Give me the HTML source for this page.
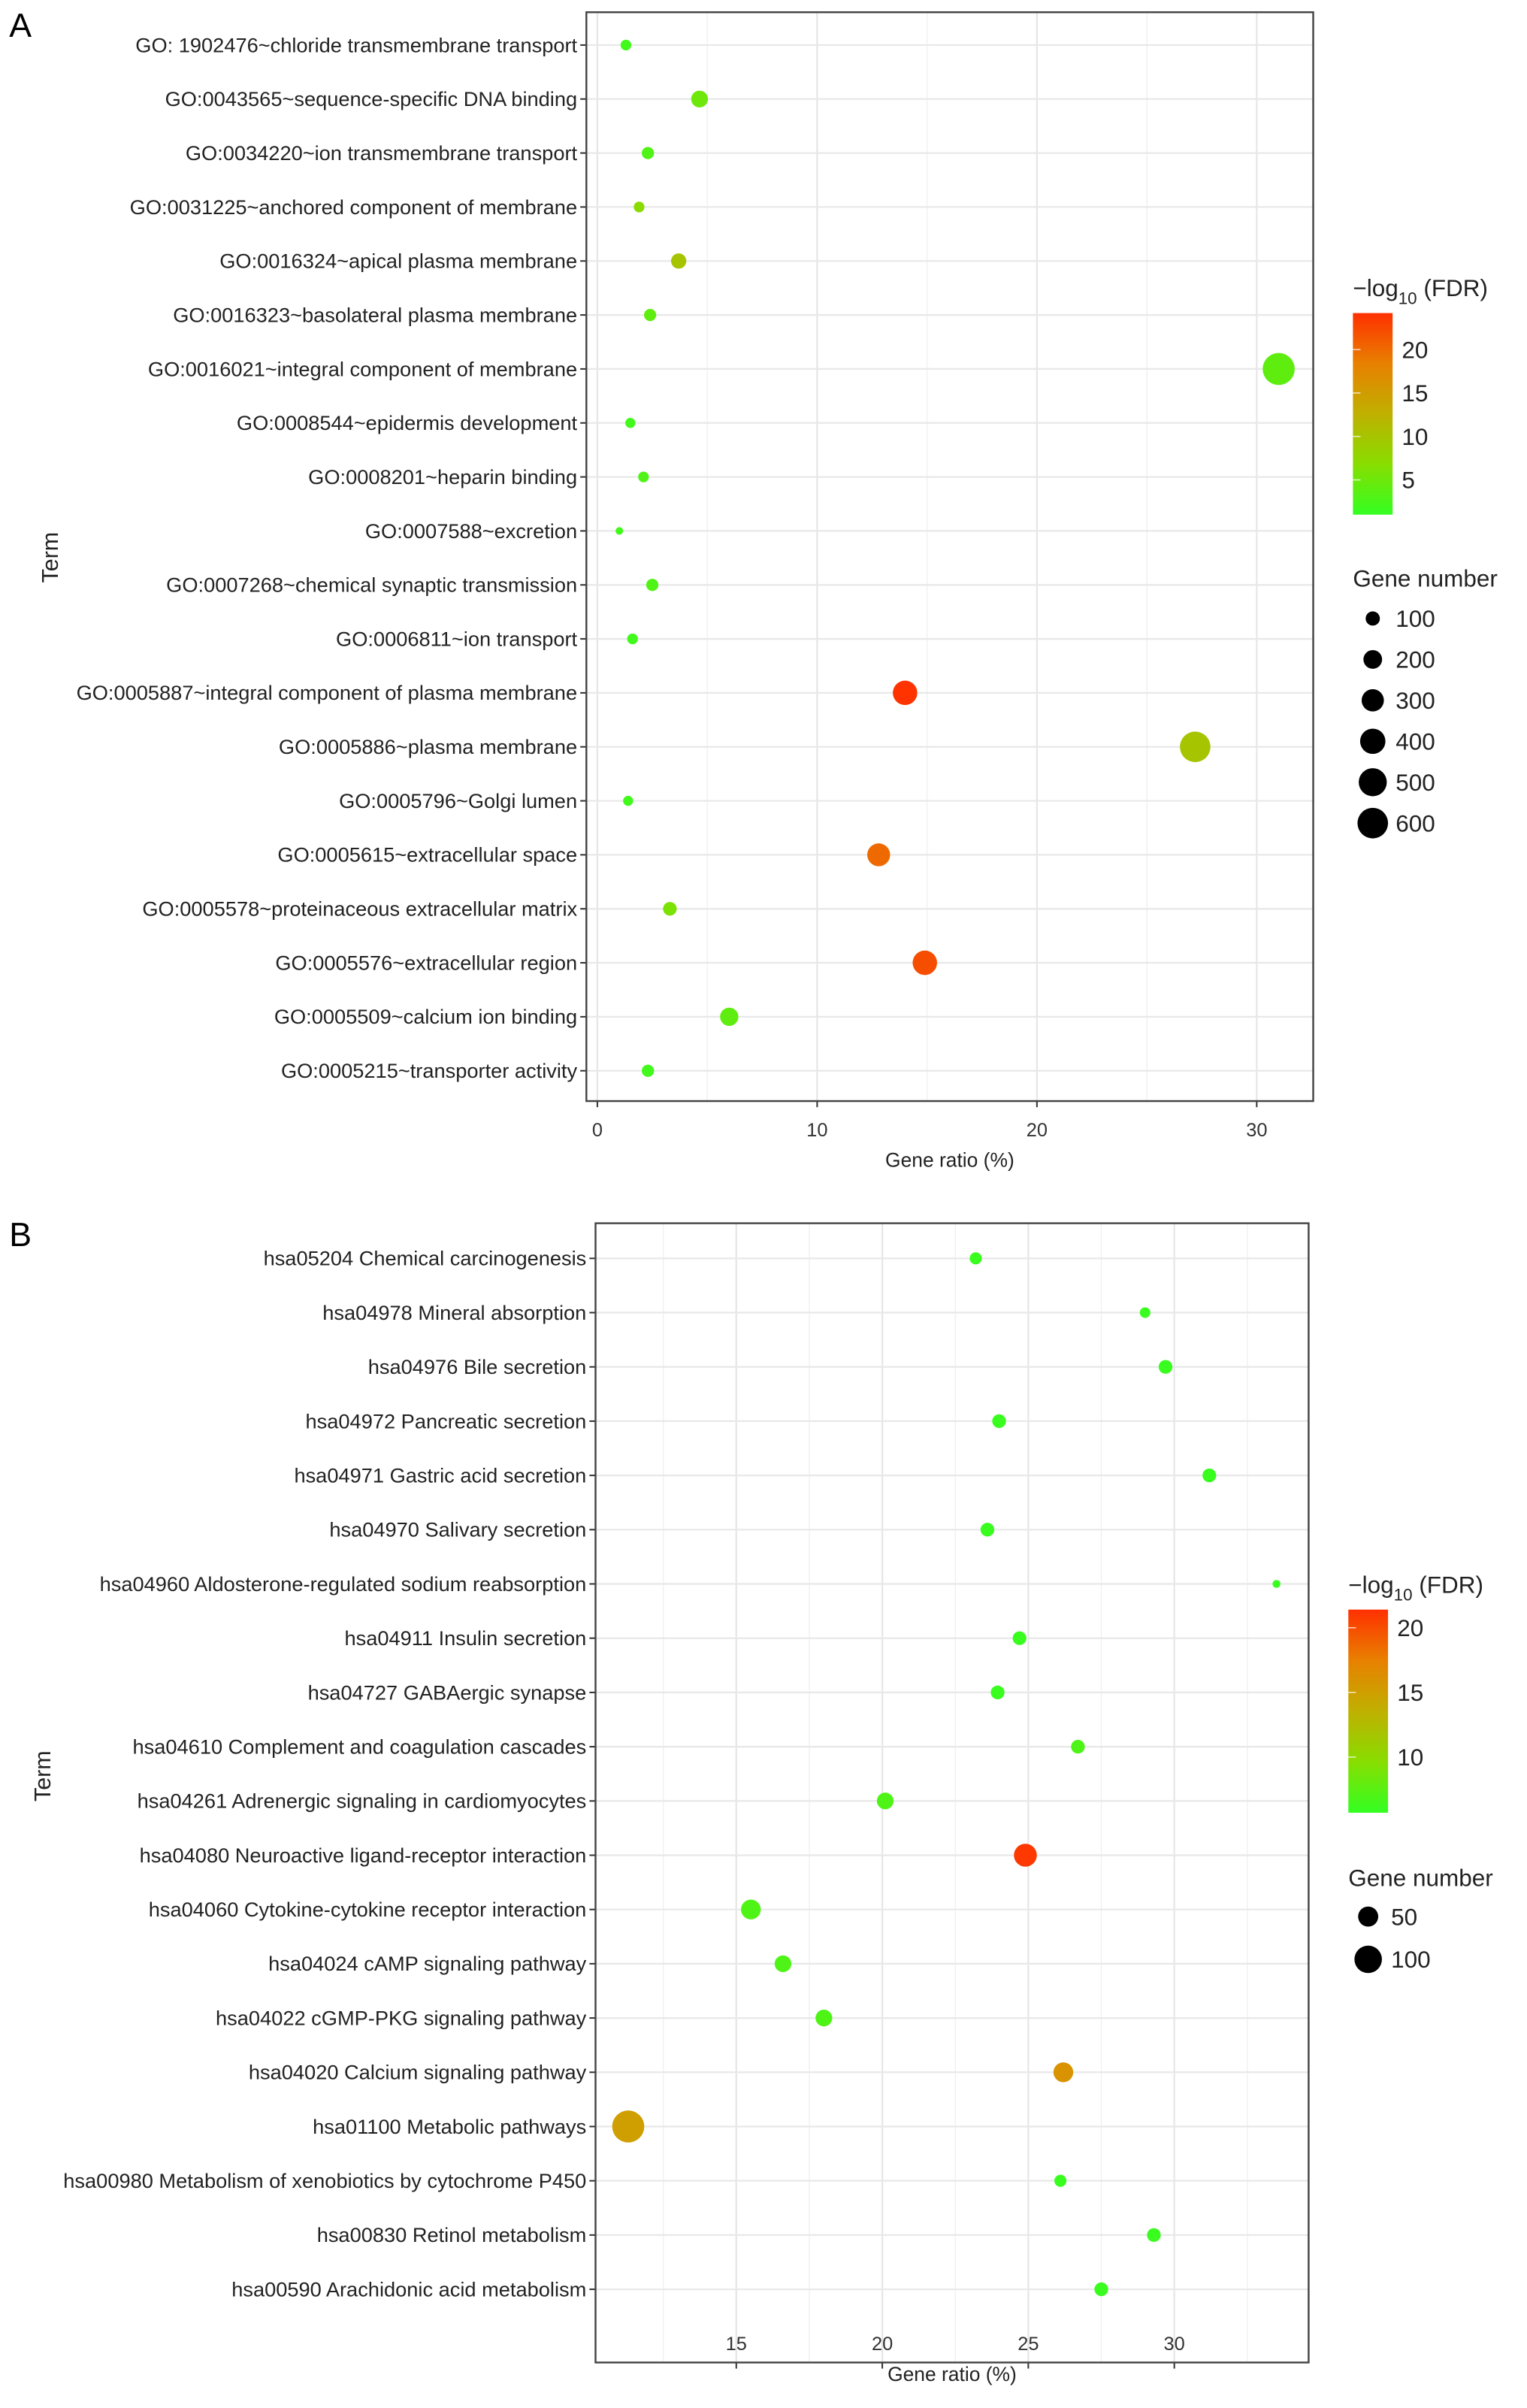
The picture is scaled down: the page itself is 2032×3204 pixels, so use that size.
<!DOCTYPE html>
<html><head><meta charset="utf-8">
<style>html,body{margin:0;padding:0;background:#fff;}svg{display:block;}text{font-family:"Liberation Sans",sans-serif;}</style>
</head><body>
<svg id="fig" width="2032" height="3204" viewBox="0 0 1000 1576.8" xmlns="http://www.w3.org/2000/svg">
<defs>
<linearGradient id="cbar" x1="0" y1="1" x2="0" y2="0">
<stop offset="0" stop-color="#33ff22"/><stop offset="0.25" stop-color="#88dd00"/><stop offset="0.5" stop-color="#c0b000"/><stop offset="0.75" stop-color="#e88000"/><stop offset="1" stop-color="#ff3000"/>
</linearGradient>
</defs>
<g id="gA"></g>
<g id="gB"></g>
</svg>
<script>
const termsA = ["GO: 1902476~chloride transmembrane transport","GO:0043565~sequence-specific DNA binding","GO:0034220~ion transmembrane transport","GO:0031225~anchored component of membrane","GO:0016324~apical plasma membrane","GO:0016323~basolateral plasma membrane","GO:0016021~integral component of membrane","GO:0008544~epidermis development","GO:0008201~heparin binding","GO:0007588~excretion","GO:0007268~chemical synaptic transmission","GO:0006811~ion transport","GO:0005887~integral component of plasma membrane","GO:0005886~plasma membrane","GO:0005796~Golgi lumen","GO:0005615~extracellular space","GO:0005578~proteinaceous extracellular matrix","GO:0005576~extracellular region","GO:0005509~calcium ion binding","GO:0005215~transporter activity"];
const ratioA = [1.3,4.65,2.3,1.9,3.7,2.4,31.0,1.5,2.1,1.0,2.5,1.6,14.0,27.2,1.4,12.8,3.3,14.9,6.0,2.3];
const fdrA = [2,5,3,7,10,4,4,2,3,2,3,2,24,10,2,20,6,22,4,2];
const countA = [40,155,64,40,121,64,664,31,40,1,64,40,370,600,31,320,90,370,191,64];
const xticksA = [0,10,20,30];
const cticksA = [20,15,10,5];
const sizeTicksA = [100,200,300,400,500,600];

const termsB = ["hsa05204 Chemical carcinogenesis","hsa04978 Mineral absorption","hsa04976 Bile secretion","hsa04972 Pancreatic secretion","hsa04971 Gastric acid secretion","hsa04970 Salivary secretion","hsa04960 Aldosterone-regulated sodium reabsorption","hsa04911 Insulin secretion","hsa04727 GABAergic synapse","hsa04610 Complement and coagulation cascades","hsa04261 Adrenergic signaling in cardiomyocytes","hsa04080 Neuroactive ligand-receptor interaction","hsa04060 Cytokine-cytokine receptor interaction","hsa04024 cAMP signaling pathway","hsa04022 cGMP-PKG signaling pathway","hsa04020 Calcium signaling pathway","hsa01100 Metabolic pathways","hsa00980 Metabolism of xenobiotics by cytochrome P450","hsa00830 Retinol metabolism","hsa00590 Arachidonic acid metabolism"];
const ratioB = [23.2,29.0,29.7,24.0,31.2,23.6,33.5,24.7,23.95,26.7,20.1,24.9,15.5,16.6,18.0,26.2,11.3,26.1,29.3,27.5];
const fdrB = [6,6,6,6,6,6,6,6,6,7,7,21,7,7,7,16,15,6,6,6];
const countB = [13,8,19,19,19,19,1,19,19,19,32,67,48,32,32,48,139,13,19,19];
const xticksB = [15,20,25,30];
const cticksB = [20,15,10];
const sizeTicksB = [50,100];

const NS="http://www.w3.org/2000/svg";
function mk(parent,tag,attrs,txt){const e=document.createElementNS(NS,tag);for(const k in attrs)e.setAttribute(k,attrs[k]);if(txt!==undefined)e.textContent=txt;parent.appendChild(e);return e;}
const stops=[[0,[51,255,34]],[0.25,[136,221,0]],[0.5,[192,176,0]],[0.75,[232,128,0]],[1,[255,48,0]]];
function col(t){t=Math.max(0,Math.min(1,t));for(let i=1;i<stops.length;i++){if(t<=stops[i][0]){const a=stops[i-1],b=stops[i];const f=(t-a[0])/(b[0]-a[0]);const c=a[1].map((v,j)=>Math.round(v+(b[1][j]-v)*f));return `rgb(${c[0]},${c[1]},${c[2]})`;}}return 'rgb(255,48,0)';}

function panel(g,cfg){
  const {terms,ratio,fdr,count,xticks,cticks,sizeTicks,L,R,T,B,x0,x1,y0,yStep,minorStep,cmin,cmax,cbTop,cbBot,cbX,sizeK,legTitleY,sizeY,sizeStep,letter,letterY,termY,termX,xTickY,xTitleY,cTitleY}=cfg;
  const xs=v=>L+(v-x0)/(x1-x0)*(R-L);
  const ys=i=>y0+i*yStep;
  const rs=n=>Math.sqrt(6+sizeK*n);
  const cs=v=>cbBot-(v-cmin)/(cmax-cmin)*(cbBot-cbTop);
  let e;
  e=mk(g,'text',{x:6,y:letterY,'font-size':22,fill:'#000'},letter);
  
  
  e=mk(g,'rect',{x:L,y:T,width:R-L,height:B-T,fill:'#fff'});
  
  
  for(let v=Math.ceil(x0/minorStep)*minorStep;v<=x1;v+=minorStep){
    e=mk(g,'line',{x1:xs(v),x2:xs(v),y1:T,y2:B,stroke:'#f0f0f0','stroke-width':0.7});
    
    
  }
  xticks.forEach(v=>{
    e=mk(g,'line',{x1:xs(v),x2:xs(v),y1:T,y2:B,stroke:'#e6e6e6','stroke-width':1.1});
    
    
    e=mk(g,'line',{x1:xs(v),x2:xs(v),y1:B,y2:B+4,stroke:'#333','stroke-width':1});
    
    
    e=mk(g,'text',{x:xs(v),y:xTickY,'font-size':12.5,'text-anchor':'middle',fill:'#333'},String(v));
    
    
  });
  terms.forEach((t,i)=>{
    e=mk(g,'line',{x1:L,x2:R,y1:ys(i),y2:ys(i),stroke:'#e8e8e8','stroke-width':1.1});
    
    
    e=mk(g,'line',{x1:L-4,x2:L,y1:ys(i),y2:ys(i),stroke:'#333','stroke-width':1});
    
    
    e=mk(g,'text',{x:L-6,y:ys(i)+4.6,'font-size':13.4,'text-anchor':'end',fill:'#222'},t);
    
    
  });
  e=mk(g,'rect',{x:L,y:T,width:R-L,height:B-T,fill:'none',stroke:'#444','stroke-width':1.2});
  
  
  terms.forEach((t,i)=>{
    e=mk(g,'circle',{cx:xs(ratio[i]),cy:ys(i),r:rs(count[i]),fill:col((fdr[i]-cmin)/(cmax-cmin))});
    
    
  });
  e=mk(g,'text',{x:(L+R)/2,y:xTitleY,'font-size':13,'text-anchor':'middle',fill:'#222'},'Gene ratio (%)');
  
  
  e=mk(g,'text',{x:termX,y:termY,'font-size':15,'text-anchor':'middle',fill:'#222',transform:`rotate(-90 ${termX} ${termY})`},'Term');
  
  
  e=mk(g,'text',{x:cbX,y:cTitleY,'font-size':15.5,fill:'#222'});
  
  
  mk(e,'tspan',{},'\u2212log');
  mk(e,'tspan',{dy:5,'font-size':11},'10');
  mk(e,'tspan',{dy:-5},' (FDR)');
  e=mk(g,'rect',{x:cbX,y:cbTop,width:26,height:cbBot-cbTop,fill:'url(#cbar)'});
  
  
  cticks.forEach(v=>{
    e=mk(g,'line',{x1:cbX,x2:cbX+5,y1:cs(v),y2:cs(v),stroke:'#fff','stroke-width':0.8,opacity:0.7});
    
    
    e=mk(g,'text',{x:cbX+32,y:cs(v)+5.5,'font-size':15.5,fill:'#222'},String(v));
    
    
  });
  e=mk(g,'text',{x:cbX,y:legTitleY,'font-size':15.5,fill:'#222'},'Gene number');
  
  
  sizeTicks.forEach((v,i)=>{
    const y=sizeY+i*sizeStep;
    e=mk(g,'circle',{cx:cbX+13,cy:y,r:rs(v),fill:'#000'});
    
    
    e=mk(g,'text',{x:cbX+28,y:y+5.5,'font-size':15.5,fill:'#222'},String(v));
    
    
  });
}
panel(document.getElementById('gA'),{terms:termsA,ratio:ratioA,fdr:fdrA,count:countA,xticks:xticksA,cticks:cticksA,sizeTicks:sizeTicksA,
 L:384,R:860,T:8,B:721,x0:-0.5,x1:32.57,y0:29.5,yStep:35.35,minorStep:5,cmin:1,cmax:24.2,cbTop:205,cbBot:337,cbX:886,
 sizeK:0.157,legTitleY:384,sizeY:405,sizeStep:26.8,letter:'A',letterY:24,termY:365,termX:38,xTickY:744,xTitleY:764,cTitleY:194});
panel(document.getElementById('gB'),{terms:termsB,ratio:ratioB,fdr:fdrB,count:countB,xticks:xticksB,cticks:cticksB,sizeTicks:sizeTicksB,
 L:390,R:857,T:801,B:1547,x0:10.18,x1:34.6,y0:824,yStep:35.53,minorStep:2.5,cmin:5.7,cmax:21.4,cbTop:1054,cbBot:1187,cbX:883,
 sizeK:0.75,legTitleY:1235,sizeY:1255,sizeStep:28,letter:'B',letterY:816,termY:1163,termX:33,xTickY:1539,xTitleY:1559,cTitleY:1043});
</script>
</body></html>
